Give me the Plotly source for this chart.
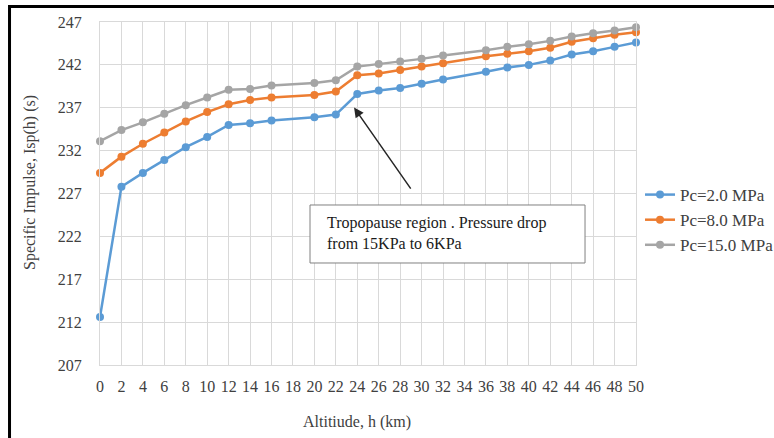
import plotly.graph_objects as go

altitude = [0, 2, 4, 6, 8, 10, 12, 14, 16, 20, 22, 24, 26, 28, 30, 32, 36, 38, 40, 42, 44, 46, 48, 50]
isp_2mpa = [212.6, 227.8, 229.4, 230.9, 232.4, 233.6, 235.0, 235.2, 235.5, 235.9, 236.2, 238.6, 239.0, 239.3, 239.8, 240.3,
            241.2, 241.7, 242.0, 242.5, 243.2, 243.6, 244.1, 244.6]
isp_8mpa = [229.4, 231.3, 232.8, 234.1, 235.4, 236.5, 237.4, 237.9, 238.2, 238.5, 238.9, 240.8, 241.0, 241.4, 241.8, 242.2,
            243.0, 243.3, 243.6, 244.0, 244.7, 245.1, 245.5, 245.8]
isp_15mpa = [233.1, 234.4, 235.3, 236.3, 237.3, 238.2, 239.1, 239.2, 239.6, 239.9, 240.2, 241.8, 242.1, 242.4, 242.7, 243.1,
             243.7, 244.1, 244.4, 244.8, 245.3, 245.7, 246.0, 246.4]
series_names = ["Pc=2.0 MPa", "Pc=8.0 MPa", "Pc=15.0 MPa"]
colors = ["#5b9bd5", "#ed7d31", "#a5a5a5"]
x_ticks = list(range(0, 51, 2))
y_ticks = list(range(207, 248, 5))

FONT = "Liberation Serif"
TXT = "#404040"

fig = go.Figure()
for name, vals, col in zip(series_names, [isp_2mpa, isp_8mpa, isp_15mpa], colors):
    fig.add_trace(go.Scatter(
        x=altitude, y=vals, name=name, mode="lines+markers",
        line=dict(color=col, width=2.5),
        marker=dict(color=col, size=8),
        cliponaxis=False,
    ))

grid = "#d9d9d9"
fig.update_layout(
    width=774, height=438,
    margin=dict(l=100, r=138, t=22, b=73, autoexpand=False),
    paper_bgcolor="white", plot_bgcolor="white",
    font=dict(family=FONT, size=16, color=TXT),
    showlegend=True,
    legend=dict(x=1.0075, xanchor="left", y=0.548, yanchor="top",
                bgcolor="rgba(0,0,0,0)", font=dict(family=FONT, size=17, color=TXT),
                itemclick=False),
    xaxis=dict(range=[0, 50], tickmode="array", tickvals=x_ticks, ticktext=[str(v) for v in x_ticks],
               showgrid=True, gridcolor=grid, gridwidth=1, showline=True, linecolor=grid, mirror=True,
               zeroline=False, ticks="", ticklabelstandoff=7, tickfont=dict(size=16, color=TXT)),
    yaxis=dict(range=[207, 247], tickmode="array", tickvals=y_ticks, ticktext=[str(v) for v in y_ticks],
               showgrid=True, gridcolor=grid, gridwidth=1, showline=True, linecolor=grid, mirror=True,
               zeroline=False, ticks="", ticklabelstandoff=14, tickfont=dict(size=16, color=TXT)),
)

# outer frame
fig.add_shape(type="rect", xref="paper", yref="paper", x0=-0.1688, x1=1.27, y0=-0.25, y1=1.045,
              line=dict(color="black", width=3), fillcolor="rgba(0,0,0,0)", layer="above")

# axis titles
fig.add_annotation(xref="paper", yref="paper", x=-0.1306, y=0.5335, text="Specific Impulse, Isp(h) (s)",
                   textangle=-90, showarrow=False, font=dict(family=FONT, size=16, color=TXT),
                   xanchor="center", yanchor="middle")
fig.add_annotation(xref="paper", yref="paper", x=0.4795, y=-0.166, text="Altitiude, h (km)",
                   showarrow=False, font=dict(family=FONT, size=16, color=TXT),
                   xanchor="center", yanchor="middle")

# arrow
fig.add_annotation(x=23.7, y=237.03, xref="x", yref="y", text="", showarrow=True,
                   ax=57.7, ay=82.7, arrowhead=2, arrowsize=1.3, arrowwidth=1.5, arrowcolor="#262626",
                   standoff=0)

# text box
fig.add_shape(type="rect", xref="paper", yref="paper", x0=0.3918, x1=0.9049, y0=0.2974, y1=0.4665,
              line=dict(color="#808080", width=1), fillcolor="white", layer="above")
fig.add_annotation(xref="paper", yref="paper", x=0.4198, y=0.3848, xanchor="left", yanchor="middle",
                   align="left", showarrow=False,
                   text="Tropopause region . Pressure drop<br>from 15KPa to 6KPa",
                   font=dict(family=FONT, size=16, color="#1a1a1a"))

fig.write_html("out.html", config={"displayModeBar": False},
               post_script="document.body.style.margin='0';document.body.style.overflow='hidden';")
